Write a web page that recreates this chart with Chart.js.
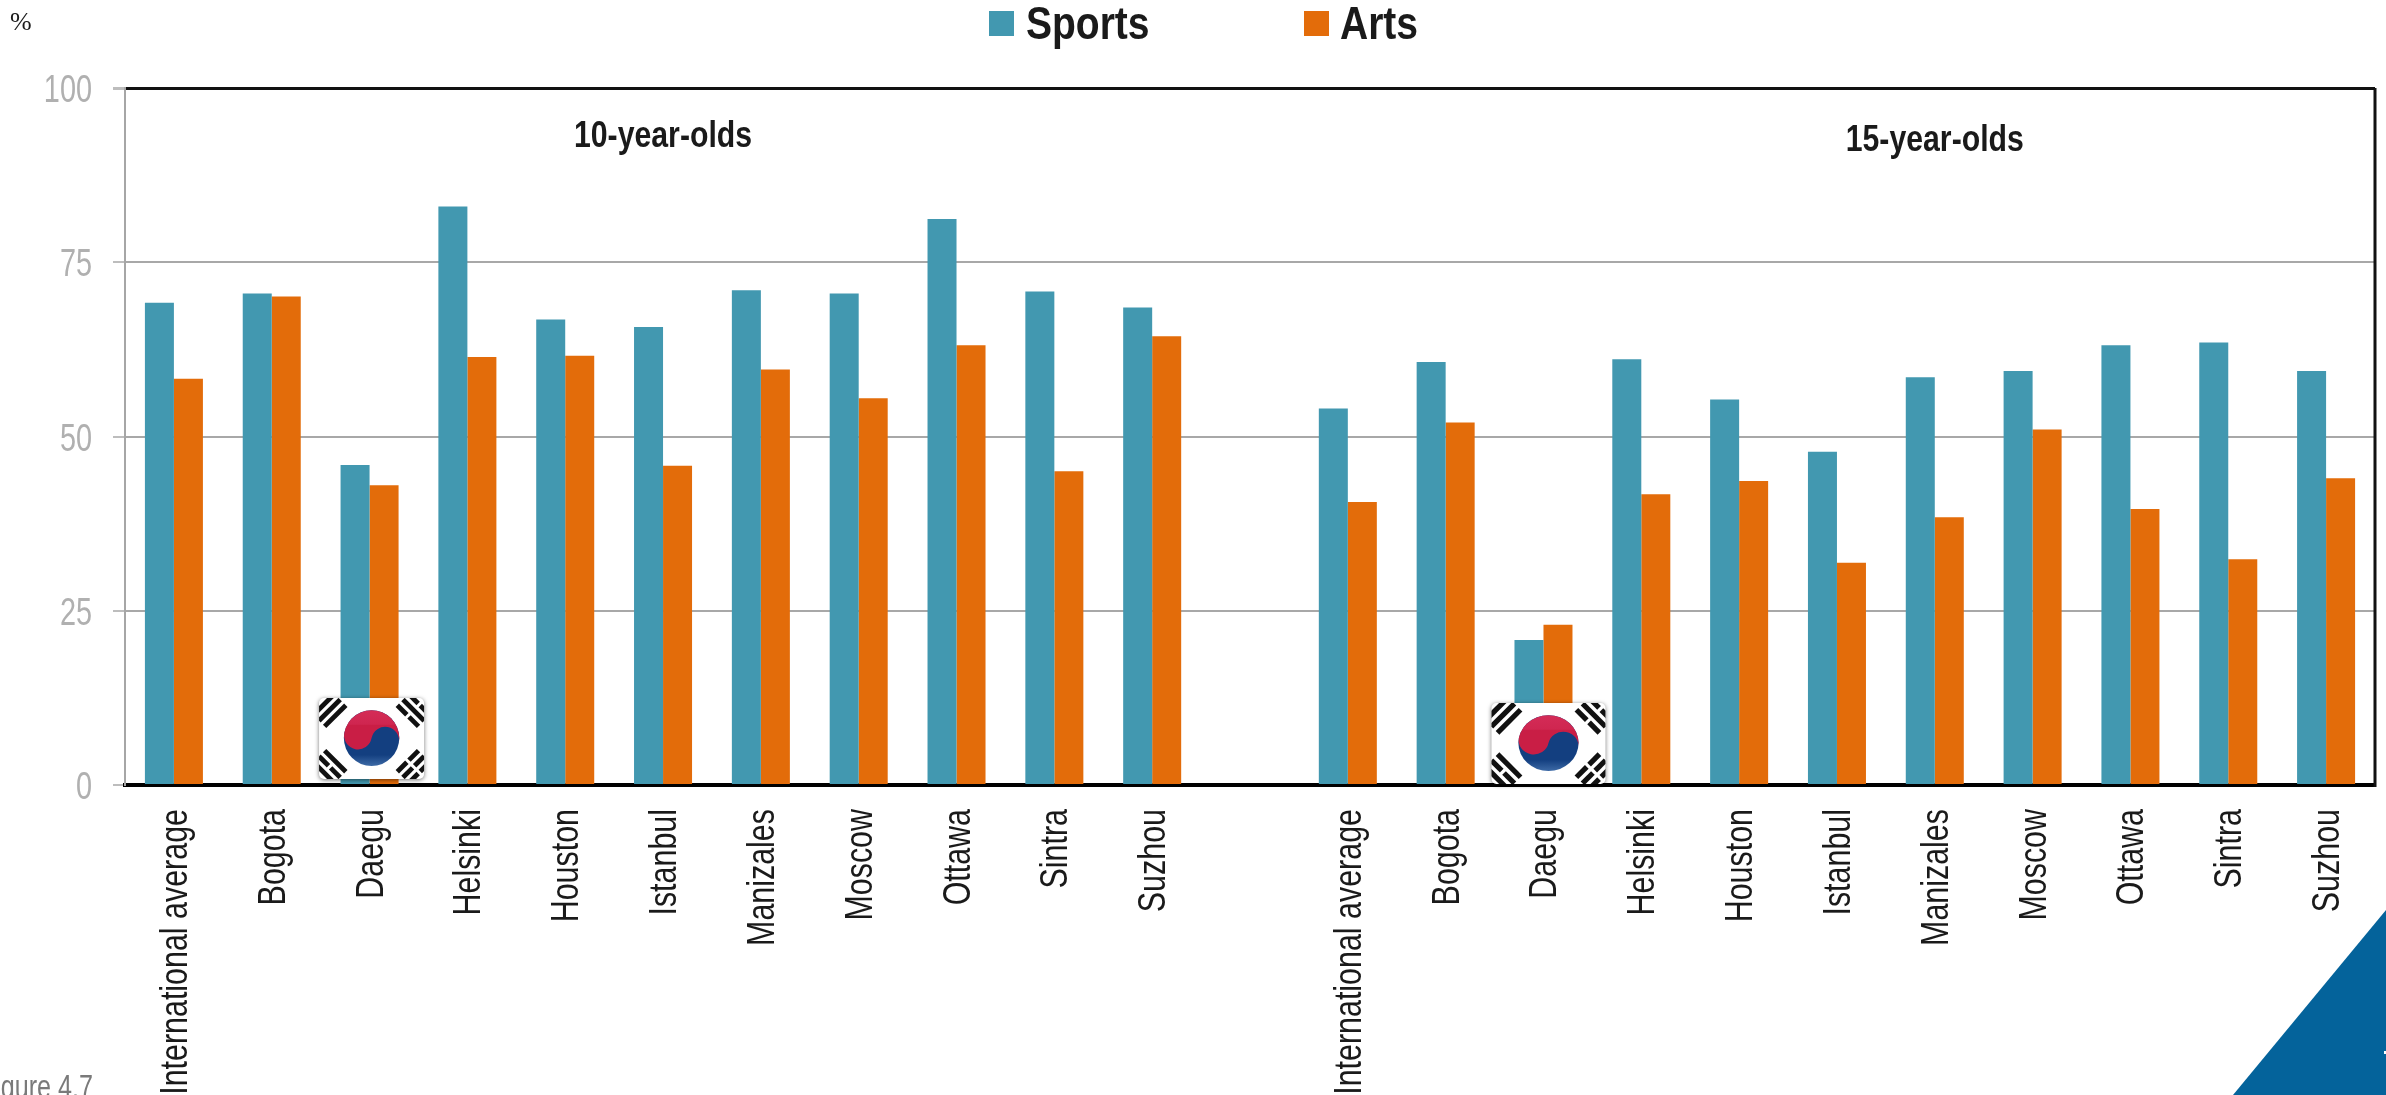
<!DOCTYPE html>
<html>
<head>
<meta charset="utf-8">
<title>Sports and arts participation</title>
<style>
    html, body { margin: 0; padding: 0; background: #fff; overflow: hidden; }
    canvas { display: block; }
</style>
<script src="https://cdn.jsdelivr.net/npm/chart.js@4"></script>
</head>
<body>
<canvas id="chart1" width="2386" height="1095"></canvas>
<script>
var cities = ["International average", "Bogota", "Daegu", "Helsinki", "Houston", "Istanbul", "Manizales", "Moscow", "Ottawa", "Sintra", "Suzhou"];
var sports10 = [69.2, 70.5, 45.9, 83.0, 66.8, 65.7, 71.0, 70.5, 81.2, 70.8, 68.5];
var arts10 = [58.3, 70.1, 43.0, 61.4, 61.6, 45.8, 59.6, 55.5, 63.1, 45.0, 64.4];
var sports15 = [54.0, 60.7, 20.8, 61.1, 55.3, 47.8, 58.5, 59.4, 63.1, 63.5, 59.4];
var arts15 = [40.6, 52.0, 23.0, 41.7, 43.6, 31.9, 38.4, 51.0, 39.6, 32.4, 44.0];
var yTicks = [0, 25, 50, 75, 100];

var SANS = '"Liberation Sans", Arial, sans-serif';
var SPORTS_COLOR = '#4298b0';
var ARTS_COLOR = '#e36c0a';

// one empty category separates the two age groups
var labels = cities.concat([""], cities);

// no narrow face is installed, so text is squeezed horizontally on the canvas
function narrowText(ctx, text, x, y, squeeze, angle) {
    ctx.save();
    ctx.translate(x, y);
    if (angle) ctx.rotate(angle);
    ctx.scale(squeeze, 1);
    ctx.fillText(text, 0, 0);
    ctx.restore();
}

function drawTrigram(ctx, cx, cy, angle, pattern, k) {
    ctx.save();
    ctx.translate(cx, cy);
    ctx.rotate(angle);
    ctx.scale(k, k);
    pattern.forEach(function (solid, i) {
        var y = (i - 1) * 8 - 2.4;
        if (solid) {
            ctx.fillRect(-15, y, 30, 4.8);
        } else {
            ctx.fillRect(-15, y, 13.5, 4.8);
            ctx.fillRect(1.5, y, 13.5, 4.8);
        }
    });
    ctx.restore();
}

function drawFlag(ctx, cx, bottom, w, h) {
    var left = cx - w / 2, top = bottom - h;
    ctx.save();
    ctx.shadowColor = 'rgba(0,0,0,0.55)';
    ctx.shadowBlur = 4;
    ctx.shadowOffsetY = 1;
    ctx.fillStyle = '#fff';
    ctx.beginPath();
    ctx.roundRect(left, top, w, h, 5);
    ctx.fill();
    ctx.restore();

    ctx.save();
    ctx.beginPath();
    ctx.roundRect(left, top, w, h, 5);
    ctx.clip();

    var ink = ctx.createLinearGradient(0, top, 0, bottom);
    ink.addColorStop(0, '#111');
    ink.addColorStop(0.6, '#222');
    ink.addColorStop(1, '#808080');
    ctx.fillStyle = ink;
    var dx = w * 0.4, dy = h * 0.35;
    var cy = top + h * 0.5;
    var k = w / 105;
    drawTrigram(ctx, cx - dx, cy - dy, -Math.PI / 4, [1, 1, 1], k);
    drawTrigram(ctx, cx + dx, cy - dy, Math.PI / 4, [0, 1, 0], k);
    drawTrigram(ctx, cx - dx, cy + dy, Math.PI / 4, [1, 0, 1], k);
    drawTrigram(ctx, cx + dx, cy + dy, -Math.PI / 4, [0, 0, 0], k);

    // taegeuk, red over blue with the s-curve between them
    var tilt = Math.PI * 0.06;
    var ox = 0.5 * Math.cos(tilt), oy = 0.5 * Math.sin(tilt);
    ctx.translate(cx, top + h * 0.495);
    ctx.scale(w * 0.264, h * 0.345);
    var blue = ctx.createLinearGradient(0, 0, 0, 1);
    blue.addColorStop(0, '#133f80');
    blue.addColorStop(0.6, '#133f80');
    blue.addColorStop(1, '#3d6aa6');
    ctx.fillStyle = blue;
    ctx.beginPath();
    ctx.arc(0, 0, 1, 0, Math.PI * 2);
    ctx.fill();
    var red = ctx.createLinearGradient(0, -1, 0, 0);
    red.addColorStop(0, '#d42c57');
    red.addColorStop(0.5, '#cf2650');
    red.addColorStop(0.55, '#c91e45');
    red.addColorStop(1, '#c91e45');
    ctx.fillStyle = red;
    ctx.beginPath();
    ctx.arc(0, 0, 1, Math.PI + tilt, Math.PI * 2 + tilt, false);
    ctx.arc(ox, oy, 0.5, tilt, Math.PI + tilt, true);
    ctx.arc(-ox, -oy, 0.5, tilt, Math.PI + tilt, false);
    ctx.closePath();
    ctx.fill();
    ctx.restore();
}

// tick text, legend, age-group captions, the plot frame and the page furniture
var decorations = {
    id: 'decorations',
    afterDraw: function (chart) {
        var ctx = chart.ctx;
        var x = chart.scales.x, y = chart.scales.y, area = chart.chartArea;

        ctx.save();
        // right side of the frame
        ctx.strokeStyle = '#111';
        ctx.lineWidth = 3;
        ctx.beginPath();
        ctx.moveTo(area.right, area.top);
        ctx.lineTo(area.right, area.bottom + 2);
        ctx.stroke();

        drawFlag(ctx, x.getPixelForValue(2) + 2, 779, 105, 81);
        drawFlag(ctx, x.getPixelForValue(14) + 5, 784, 114, 81);

        ctx.textBaseline = 'alphabetic';

        // category labels, rotated
        ctx.textAlign = 'right';
        ctx.fillStyle = '#1a1a1a';
        ctx.font = '39px ' + SANS;
        labels.forEach(function (name, i) {
            narrowText(ctx, name, x.getPixelForValue(i) + 13, area.bottom + 24, 0.78, -Math.PI / 2);
        });

        // value labels
        ctx.fillStyle = '#b0b0b0';
        ctx.font = '39px ' + SANS;
        yTicks.forEach(function (v) {
            narrowText(ctx, String(v), 92, y.getPixelForValue(v) + 14, 0.74);
        });

        ctx.textAlign = 'center';
        ctx.fillStyle = '#1a1a1a';
        ctx.font = 'bold 36px ' + SANS;
        narrowText(ctx, '10-year-olds', x.getPixelForValue(5), 147, 0.84);
        narrowText(ctx, '15-year-olds', x.getPixelForValue(18), 151, 0.84);

        ctx.textAlign = 'left';
        ctx.fillStyle = SPORTS_COLOR;
        ctx.fillRect(989, 11, 25, 25);
        ctx.fillStyle = ARTS_COLOR;
        ctx.fillRect(1304, 11, 25, 25);
        ctx.fillStyle = '#1a1a1a';
        ctx.font = 'bold 47px ' + SANS;
        narrowText(ctx, chart.data.datasets[0].label, 1026, 39, 0.83);
        narrowText(ctx, chart.data.datasets[1].label, 1340, 39, 0.83);

        ctx.font = '26px "Liberation Serif", serif';
        ctx.fillText('%', 10, 30);

        ctx.textAlign = 'right';
        ctx.font = '34px ' + SANS;
        ctx.fillStyle = '#7a7a7a';
        narrowText(ctx, 'Figure 4.7', 93, 1098, 0.74);

        // corner tab
        ctx.fillStyle = '#04639b';
        ctx.beginPath();
        ctx.moveTo(2233, 1095);
        ctx.lineTo(2386, 910);
        ctx.lineTo(2386, 1095);
        ctx.closePath();
        ctx.fill();
        ctx.fillStyle = '#fff';
        ctx.fillRect(2384, 1051, 2, 3);
        ctx.restore();
    }
};

var ctxChart1 = document.getElementById('chart1').getContext('2d');
var chart1 = new Chart(ctxChart1, {
    type: 'bar',
    plugins: [decorations],
    data: {
        labels: labels,
        datasets: [{
            label: "Sports",
            data: sports10.concat([null], sports15),
            backgroundColor: SPORTS_COLOR,
            barPercentage: 1,
            categoryPercentage: 0.593
        }, {
            label: "Arts",
            data: arts10.concat([null], arts15),
            backgroundColor: ARTS_COLOR,
            barPercentage: 1,
            categoryPercentage: 0.593
        }]
    }, options: {
        responsive: false,
        animation: false,
        layout: { padding: { top: 88, right: 11, left: 0, bottom: 0 } },
        plugins: {
            legend: { display: false },
            title: { display: false },
            tooltip: { enabled: false }
        }, scales: {
            x: {
                afterFit: function (scale) { scale.height = 310; },
                grid: { display: false },
                border: { color: '#000', width: 4 },
                ticks: { display: false, autoSkip: false }
            },
            y: {
                min: 0,
                max: 100,
                afterFit: function (scale) { scale.width = 125; },
                afterBuildTicks: function (scale) {
                    scale.ticks = yTicks.map(function (v) { return { value: v }; });
                },
                border: { color: '#a6a6a6', width: 2 },
                grid: {
                    lineWidth: function (c) { return c.tick.value === 100 ? 3 : 2; },
                    color: function (c) {
                        if (c.tick.value === 100) return '#111';
                        return c.tick.value === 0 ? 'transparent' : '#a8a8a8';
                    },
                    tickColor: '#bdbdbd',
                    tickLength: 12
                },
                ticks: { display: false }
            }
        }
    }
});
</script>
</body>
</html>
